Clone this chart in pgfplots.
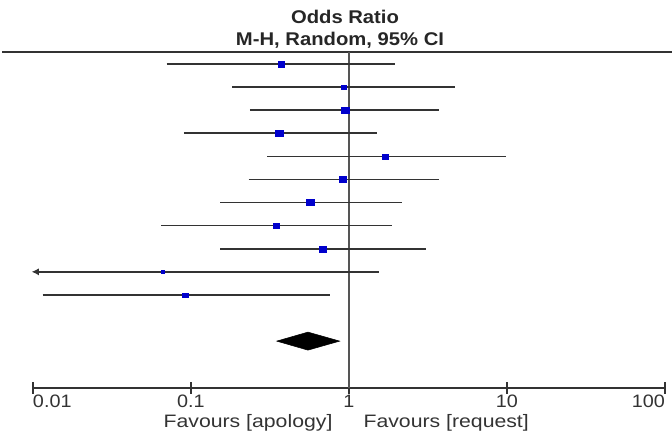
\documentclass[border=0pt]{standalone}
\usepackage{fontspec}
\setmainfont{Liberation Sans}
\usepackage{pgfplots}
\pgfplotsset{compat=1.18}
\usepackage{pgfplotstable}
\usetikzlibrary{arrows.meta}
\definecolor{markblue}{RGB}{0,0,204}
\definecolor{cigray}{RGB}{51,51,51}
\definecolor{vgray}{RGB}{85,85,85}

% one row per study: position, odds ratio, CI, marker half size (pt)
\pgfplotstableread{
y    or      lo      hi     ms
-1   0.371   0.070   1.95   2.0
-2   0.926   0.182   4.67   1.7
-3   0.944   0.236   3.70   2.5
-4   0.362   0.090   1.50   2.4
-5   1.70    0.303   9.90   1.8
-6   0.913   0.232   3.70   2.27
-7   0.567   0.153   2.18   2.27
-8   0.346   0.0646  1.87   1.7
-9   0.682   0.153   3.06   2.27
-10  0.066   0.01    1.55   1.0
-11  0.0919  0.0115  0.755  1.7
}\studies

\begin{document}
\begin{tikzpicture}
\begin{axis}[
  at={(24.75pt,34.5pt)}, anchor=south west,
  scale only axis, width=474pt, height=252pt,
  xmode=log, xmin=0.01, xmax=100,
  ymin=-15.03, ymax=-0.48,
  axis y line=none, axis x line=bottom,
  x axis line style={-, line width=1.2pt, draw=cigray},
  xtick={0.01,0.1,1,10,100},
  xticklabels={\rlap{0.01},0.1,1,10,\llap{100}},
  xminorticks=false,
  tick align=center, major tick length=8.7pt,
  tick style={line width=1.2pt, draw=cigray},
  xticklabel style={anchor=base, yshift=-10.5pt, font=\fontsize{13.5}{16}\selectfont, xscale=1.1, text=black!80},
  clip=false,
  ci/.style={cigray, line width=1.25pt},
]
% header rule and line of no effect
\draw[cigray, line width=1.2pt] (axis cs:0.00637,-0.48) -- (axis cs:110.7,-0.48);
\addplot[vgray, line width=1.3pt] coordinates {(1,-0.48) (1,-15.03)};

\addplot[ci] coordinates {(0.070,-1) (1.95,-1)};
\addplot[ci] coordinates {(0.182,-2) (4.67,-2)};
\addplot[ci] coordinates {(0.236,-3) (3.70,-3)};
\addplot[ci] coordinates {(0.090,-4) (1.50,-4)};
\addplot[ci] coordinates {(0.303,-5) (9.90,-5)};
\addplot[ci] coordinates {(0.232,-6) (3.70,-6)};
\addplot[ci] coordinates {(0.153,-7) (2.18,-7)};
\addplot[ci] coordinates {(0.0646,-8) (1.87,-8)};
\addplot[ci] coordinates {(0.153,-9) (3.06,-9)};
\addplot[ci, {Latex[length=5.5pt,width=5.5pt]}-] coordinates {(0.0098,-10) (1.55,-10)};
\addplot[ci] coordinates {(0.0115,-11) (0.755,-11)};

\addplot[only marks, mark=square*, scatter,
  scatter/use mapped color={draw=markblue, fill=markblue},
  visualization depends on={\thisrow{ms}\as\msz},
  scatter/@pre marker code/.append style={/tikz/mark size=\msz},
  mark options={xscale=1.2, draw=markblue, fill=markblue, line width=0.2pt}] table[x=or, y=y] {\studies};

% pooled estimate
\addplot[black, fill=black] coordinates {
  (0.349,-13) (0.55,-12.61) (0.873,-13) (0.55,-13.39) (0.349,-13)} -- cycle;
\end{axis}
\node[anchor=base, font=\bfseries\fontsize{13.8}{16}\selectfont, xscale=1.1, text=black!85] at (258.75pt,307.5pt) {Odds Ratio};
\node[anchor=base, font=\bfseries\fontsize{13.8}{16}\selectfont, xscale=1.1, text=black!85] at (255pt,291.4pt) {M-H, Random, 95\% CI};
\node[anchor=base east, font=\fontsize{13.5}{16}\selectfont, xscale=1.18, text=black!80] at (253.5pt,4.5pt) {Favours [apology]};
\node[anchor=base west, font=\fontsize{13.5}{16}\selectfont, xscale=1.18, text=black!80] at (268.5pt,4.5pt) {Favours [request]};
\pgfresetboundingbox
\useasboundingbox (0,0) rectangle (504pt,325.5pt);
\end{tikzpicture}
\end{document}
